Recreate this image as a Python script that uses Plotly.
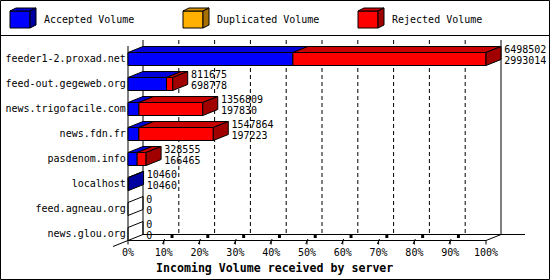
import plotly.graph_objects as go

# ---------------- data ----------------
servers = ["feeder1-2.proxad.net", "feed-out.gegeweb.org", "news.trigofacile.com",
           "news.fdn.fr", "pasdenom.info", "localhost", "feed.agneau.org", "news.glou.org"]
accepted = [2993014, 698778, 197830, 197223, 166465, 10460, 0, 0]
duplicated = [0, 0, 0, 0, 0, 0, 0, 0]
rejected = [3505488, 112897, 1158979, 1350641, 162090, 0, 0, 0]
series_names = ["Accepted Volume", "Duplicated Volume", "Rejected Volume"]
tick_values = [0, 10, 20, 30, 40, 50, 60, 70, 80, 90, 100]
tick_labels = ["0%", "10%", "20%", "30%", "40%", "50%", "60%", "70%", "80%", "90%", "100%"]
axis_title = "Incoming Volume received by server"

# ---------------- style ----------------
FONT = "DejaVu Sans Mono"
FRONT = ["#0000ff", "#ffb000", "#ff0000"]
TOP = ["#0000d8", "#d89400", "#c80000"]
SIDE = ["#0000a0", "#a87000", "#a00000"]
W, Hpx = 550, 280
PX_PER_PCT = 3.58       # horizontal scale
PX_PER_CAT = 25.0       # vertical scale
X0PX, Y0PX = 128, 59    # pixel of 0% / first category
DX = 15 / PX_PER_PCT    # depth offset in axis units
DY = -6 / PX_PER_CAT
H = 0.26                # half bar height in category units
n = len(servers)
FLOOR = n - 1 + H       # front floor line
WALL_TOP = -0.5 - H     # top of back wall

totals = [a + d + r for a, d, r in zip(accepted, duplicated, rejected)]
vmax = max(totals)
pct = lambda v: v / vmax * 100.0

fig = go.Figure()


def poly(xs, ys, fill, lw=1):
    fig.add_trace(go.Scatter(x=xs + [xs[0]], y=ys + [ys[0]], mode="lines",
                             fill="toself" if fill else None,
                             fillcolor=fill, line=dict(color="black", width=lw),
                             hoverinfo="skip", showlegend=False))


def lines(segs, dash=None, width=1, color="black"):
    xs, ys = [], []
    for (xa, ya, xb, yb) in segs:
        xs += [xa, xb, None]
        ys += [ya, yb, None]
    fig.add_trace(go.Scatter(x=xs, y=ys, mode="lines",
                             line=dict(color=color, width=width, dash=dash),
                             hoverinfo="skip", showlegend=False))


# back wall grid (dashed)
lines([(p + DX, WALL_TOP, p + DX, FLOOR + DY) for p in tick_values[1:-1]], dash="4px,3px")
# walls
lines([(DX, WALL_TOP, DX, FLOOR + DY),
       (100 + DX, WALL_TOP, 100 + DX, FLOOR + DY),
       (0, WALL_TOP - DY, 0, FLOOR),
       (0, FLOOR, 100, FLOOR),
       (DX, FLOOR + DY, (525 - X0PX) / PX_PER_PCT, FLOOR + DY),
       (-DX, FLOOR - DY, 0, FLOOR),
       (100, FLOOR, 100 + DX, FLOOR + DY)])
# ticks
lines([(p, FLOOR, p, FLOOR + 0.16) for p in tick_values] +
      [(p - 0.35, FLOOR + 0.14, p + 0.25, FLOOR - 0.06) for p in tick_values[1:-1]])
fig.add_trace(go.Scatter(x=[p + 2.3 for p in tick_values[1:-1]],
                         y=[FLOOR - 0.16] * (len(tick_values) - 2), mode="markers",
                         marker=dict(symbol="square", size=3, color="black"),
                         hoverinfo="skip", showlegend=False))

# bars
for i in range(n):
    vals = [accepted[i], duplicated[i], rejected[i]]
    start = 0.0
    last = None
    y0, y1 = i - H, i + H
    for k, v in enumerate(vals):
        if v <= 0:
            continue
        xa, xb = pct(start), pct(start + v)
        poly([xa, xb, xb, xa], [y0, y0, y1, y1], FRONT[k])
        poly([xa, xb, xb + DX, xa + DX], [y0, y0, y0 + DY, y0 + DY], TOP[k])
        start += v
        last = k
    xe = pct(start)
    poly([xe, xe + DX, xe + DX, xe], [y0, y0 + DY, y1 + DY, y1],
         SIDE[last] if last is not None else None)

# value labels
fig.add_trace(go.Scatter(x=[pct(t) + DX + 0.9 for t in totals],
                         y=[i - 0.36 for i in range(n)], mode="text",
                         text=[str(t) for t in totals], textposition="middle right",
                         textfont=dict(family=FONT, size=10, color="black"),
                         cliponaxis=False, hoverinfo="skip", showlegend=False))
fig.add_trace(go.Scatter(x=[pct(t) + DX + 0.9 for t in totals],
                         y=[i + 0.08 for i in range(n)], mode="text",
                         text=[str(a) for a in accepted], textposition="middle right",
                         textfont=dict(family=FONT, size=10, color="black"),
                         cliponaxis=False, hoverinfo="skip", showlegend=False))
# category labels
fig.add_trace(go.Scatter(x=[-0.6] * n, y=list(range(n)), mode="text", text=servers,
                         textposition="middle left",
                         textfont=dict(family=FONT, size=10, color="black"),
                         hoverinfo="skip", showlegend=False))
# tick labels
fig.add_trace(go.Scatter(x=tick_values, y=[FLOOR + 0.5] * len(tick_values), mode="text",
                         text=tick_labels, textposition="middle center",
                         textfont=dict(family=FONT, size=10, color="black"),
                         hoverinfo="skip", showlegend=False))

xmin = -X0PX / PX_PER_PCT
xmax = (W - X0PX) / PX_PER_PCT
ymin = -Y0PX / PX_PER_CAT
ymax = (Hpx - Y0PX) / PX_PER_CAT


def px(x):
    return x / W


def py(y):
    return 1 - y / Hpx


shapes = [
    dict(type="rect", xref="paper", yref="paper", x0=px(0.5), y0=py(0.5), x1=px(549.5), y1=py(279.5),
         line=dict(color="black", width=1)),
    dict(type="line", xref="paper", yref="paper", x0=px(0), y0=py(35.5), x1=px(550), y1=py(35.5),
         line=dict(color="black", width=1)),
]
annotations = [
    dict(text="<b>" + axis_title + "</b>", xref="paper", yref="paper", x=px(274), y=py(268),
         showarrow=False, font=dict(family=FONT, size=11.6, color="black"),
         xanchor="center", yanchor="middle"),
]
leg_x = [10, 183, 358]
for k, name in enumerate(series_names):
    x0 = leg_x[k]

    def path(pts):
        return "M " + " L ".join(f"{px(a)},{py(b)}" for a, b in pts) + " Z"
    shapes.append(dict(type="path", xref="paper", yref="paper",
                       path=path([(x0, 11), (x0 + 20, 11), (x0 + 20, 28), (x0, 28)]),
                       fillcolor=FRONT[k], line=dict(color="black", width=1)))
    shapes.append(dict(type="path", xref="paper", yref="paper",
                       path=path([(x0, 11), (x0 + 20, 11), (x0 + 26, 8), (x0 + 6, 8)]),
                       fillcolor=TOP[k], line=dict(color="black", width=1)))
    shapes.append(dict(type="path", xref="paper", yref="paper",
                       path=path([(x0 + 20, 11), (x0 + 26, 8), (x0 + 26, 25), (x0 + 20, 28)]),
                       fillcolor=SIDE[k], line=dict(color="black", width=1)))
    annotations.append(dict(text=name, xref="paper", yref="paper", x=px(x0 + 32), y=py(20),
                            showarrow=False, xanchor="left", yanchor="middle",
                            font=dict(family=FONT, size=10, color="black")))

fig.update_layout(
    width=W, height=Hpx, margin=dict(l=0, r=0, t=0, b=0),
    paper_bgcolor="white", plot_bgcolor="white",
    xaxis=dict(range=[xmin, xmax], visible=False, fixedrange=True),
    yaxis=dict(range=[ymax, ymin], visible=False, fixedrange=True),
    shapes=shapes, annotations=annotations, showlegend=False,
)
fig.write_html("out.html")
